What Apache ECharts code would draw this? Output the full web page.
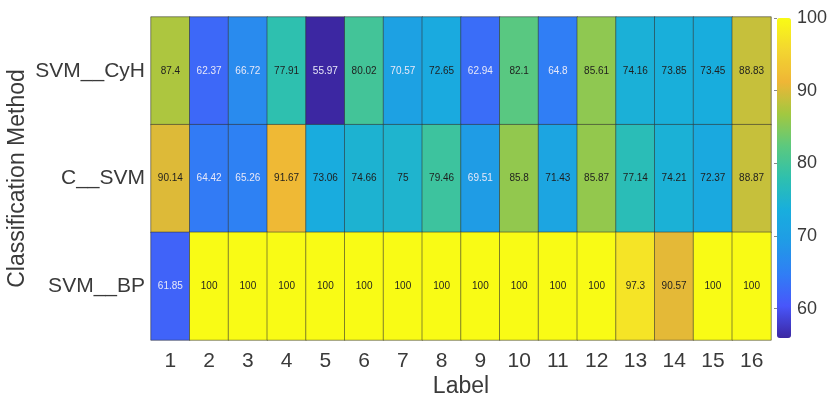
<!DOCTYPE html>
<html>
<head>
<meta charset="utf-8">
<script src="https://cdn.jsdelivr.net/npm/echarts@6/dist/echarts.min.js"></script>
<style>html,body{margin:0;padding:0;background:#fff}#c{width:831px;height:400px}</style>
</head>
<body>
<div id="c"></div>
<script>
const labels = ['1','2','3','4','5','6','7','8','9','10','11','12','13','14','15','16'];
const methods = ['SVM__CyH', 'C__SVM', 'SVM__BP'];
const svmCyH = [87.4, 62.37, 66.72, 77.91, 55.97, 80.02, 70.57, 72.65, 62.94, 82.1, 64.8, 85.61, 74.16, 73.85, 73.45, 88.83];
const cSvm   = [90.14, 64.42, 65.26, 91.67, 73.06, 74.66, 75, 79.46, 69.51, 85.8, 71.43, 85.87, 77.14, 74.21, 72.37, 88.87];
const svmBP  = [61.85, 100, 100, 100, 100, 100, 100, 100, 100, 100, 100, 100, 97.3, 90.57, 100, 100];
const colorTicks = [60, 70, 80, 90, 100];
const colorMin = 55.97, colorMax = 100;

const parula = ['#3c27a2','#4856fb','#307ef5','#209be6','#18aedd','#2ec0ae','#5cc97e','#a2c840','#efb636','#f3d630','#f9fb15'];

const rows = [svmCyH, cSvm, svmBP];
const data = [];
rows.forEach((r, yi) => r.forEach((v, xi) => data.push({
  value: [xi, yi, v],
  label: {color: v < 71 ? '#e8e8f8' : '#1e1e1e'}
})));

const chart = echarts.init(document.getElementById('c'), null, {renderer: 'canvas'});
const font = 'Liberation Sans, Arial, sans-serif';
chart.setOption({
  backgroundColor: '#ffffff',
  animation: false,
  grid: [
    {left: 151, right: 60, top: 17, bottom: 60, outerBoundsMode: 'none'},
    {left: 777, width: 14, top: 18, bottom: 62, outerBoundsMode: 'none'}
  ],
  xAxis: [
    {type: 'category', gridIndex: 0, data: labels,
     axisLine: {show: false}, axisTick: {show: false}, splitLine: {show: false},
     axisLabel: {fontSize: 21, color: '#3a3a3a', margin: 11, fontFamily: font},
     name: 'Label', nameLocation: 'middle', nameGap: 35, nameMoveOverlap: false,
     nameTextStyle: {fontSize: 23, color: '#3a3a3a', fontFamily: font}},
    {type: 'value', gridIndex: 1, show: false, min: 0, max: 1}
  ],
  yAxis: [
    {type: 'category', gridIndex: 0, data: methods, inverse: true,
     axisLine: {show: false}, axisTick: {show: false}, splitLine: {show: false},
     axisLabel: {fontSize: 21, color: '#3a3a3a', margin: 6, fontFamily: font},
     name: 'Classification Method', nameLocation: 'middle', nameGap: 122, nameRotate: 90,
     nameMoveOverlap: false,
     nameTextStyle: {fontSize: 23, color: '#3a3a3a', fontFamily: font}},
    {type: 'value', gridIndex: 1, position: 'right', min: colorMin, max: colorMax,
     axisLine: {show: false}, splitLine: {show: false},
     axisTick: {show: true, inside: true, length: 3, lineStyle: {color: '#888'}, customValues: colorTicks},
     axisLabel: {fontSize: 18, color: '#3a3a3a', margin: 6, fontFamily: font, customValues: colorTicks}}
  ],
  visualMap: {
    type: 'continuous', min: colorMin, max: colorMax, calculable: false,
    seriesIndex: 0, orient: 'vertical', left: 777, top: 18, padding: 0,
    itemWidth: 14, itemHeight: 320, text: null,
    inRange: {color: parula}
  },
  series: [{
    type: 'heatmap', xAxisIndex: 0, yAxisIndex: 0, data: data,
    itemStyle: {borderColor: 'rgba(50,50,50,0.55)', borderWidth: 1},
    label: {show: true, fontSize: 10, fontFamily: font,
      formatter: p => String(p.value[2])},
    emphasis: {disabled: true}
  }]
});
</script>
</body>
</html>
